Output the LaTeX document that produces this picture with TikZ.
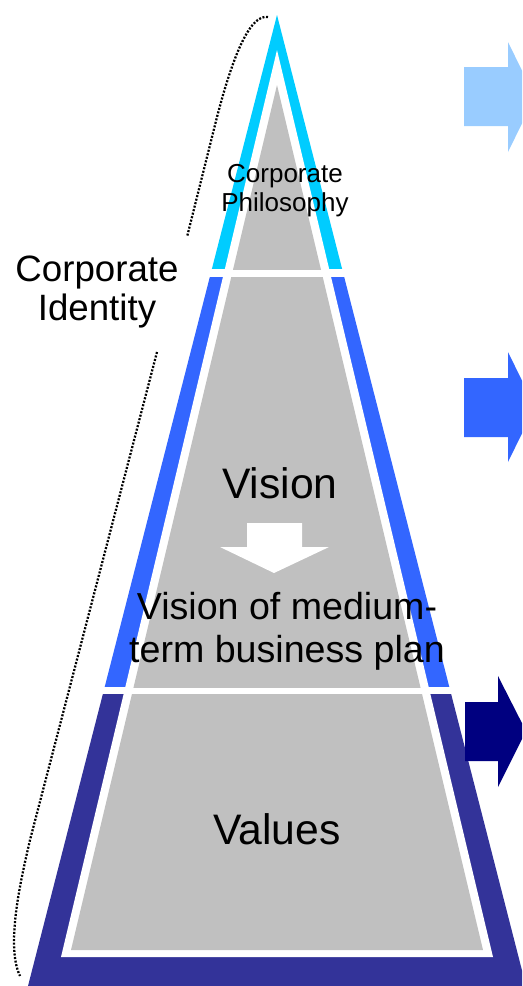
\documentclass[tikz,border=0pt]{standalone}
\usepackage{fontspec}
\setmainfont{Liberation Sans}
\usepackage{xcolor}
\usepackage{tikz}
\definecolor{philo}{RGB}{0,204,255}
\definecolor{vision}{RGB}{51,102,255}
\definecolor{values}{RGB}{51,51,153}
\definecolor{paleblue}{RGB}{153,204,255}
\definecolor{navyblue}{RGB}{0,0,128}
\definecolor{core}{RGB}{192,192,192}

\begin{document}
\begin{tikzpicture}[x=0.75pt, y=-0.75pt,
  txt/.style={align=center, inner sep=0pt, font=\fontsize{28.2}{32}\selectfont},
  bigtxt/.style={txt, font=\fontsize{32}{36}\selectfont},
  smalltxt/.style={txt, font=\fontsize{19.5}{21.75}\selectfont},
  sidetxt/.style={txt, font=\fontsize{27.5}{29.5}\selectfont},
  bracket/.style={line width=1.7pt, dash pattern=on 1.5pt off 1.2pt},
]
\useasboundingbox (0,0) rectangle (522,986);
\clip (0,0) rectangle (522,986);

% Pyramid outline
\coordinate (apex) at (277,15);
\coordinate (baseL) at (28,986);
\coordinate (baseR) at (526,986);
\foreach \top/\bot/\col in {0/268/philo, 277/686/vision, 694/990/values}{
  \begin{scope}
    \clip (0,\top) rectangle (522,\bot);
    \fill[\col] (apex) -- (baseL) -- (baseR) -- cycle;
  \end{scope}
}

% White rim
\fill[white] (277,50) -- (61,957) -- (493,957) -- cycle;

% Grey layers
\foreach \top/\bot in {85/269, 277/687, 694/950}{
  \begin{scope}
    \clip (0,\top) rectangle (522,\bot);
    \fill[core] (277,85) -- (71,950) -- (483,950) -- cycle;
  \end{scope}
}

% Down arrow
\fill[white] (247,523) -- (302,523) -- (302,547) -- (329,547) -- (274,573)
  -- (220,547) -- (247,547) -- cycle;

% Labels
\node[smalltxt] (philosophy) at (285,191) {Corporate\\Philosophy};
\node[bigtxt] (vision) at (280,483) {Vision};
\node[txt] (plan) at (287,631) {Vision of medium-\\term business plan};
\node[bigtxt] (values) at (277,829) {Values};
\node[sidetxt] (identity) at (97,292) {Corporate\\Identity};

% Right arrows
\fill[paleblue] (464,67) -- (508,67) -- (508,42) -- (535,97) -- (508,152)
  -- (508,126) -- (464,126) -- cycle;
\fill[vision] (464,378) -- (508,378) -- (508,352) -- (535,407) -- (508,462)
  -- (508,437) -- (464,437) -- cycle;
\fill[navyblue] (465,702) -- (498,702) -- (498,676) -- (526,731) -- (498,787)
  -- (498,761) -- (465,761) -- cycle;

% Bracket
\draw[bracket] (268,17) .. controls (250,14) and (232,55) .. (213,133) -- (187,237);
\draw[bracket] (157,352) -- (30,840) .. controls (22,875) and (5,945) .. (20,976);

\end{tikzpicture}
\end{document}
